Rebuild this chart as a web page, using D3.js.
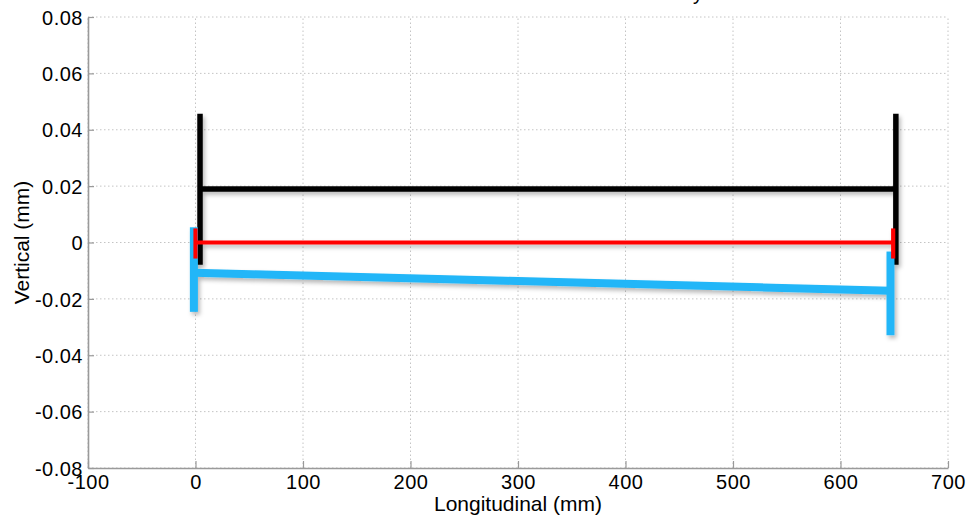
<!DOCTYPE html>
<html><head><meta charset="utf-8">
<script src="https://cdn.jsdelivr.net/npm/d3@7"></script>
<style>
html,body{margin:0;padding:0;background:#fff;}
svg{display:block;font-family:"Liberation Sans",Arial,Helvetica,sans-serif;}
</style></head>
<body>
<script>
// ---- data (mm) ----
const seriesNames = ["black", "blue", "red"];
const seriesColors = ["#000000", "#21b6f8", "#ff0000"];
const lineWidths = [5.5, 8, 4.2];
// main (horizontal / sloped) member: left end and right end
const xLeft  = [4.2, -1.5, 0];
const xRight = [651.5, 646.5, 649];
const yLeft  = [0.0190, -0.0107, 0];
const yRight = [0.0190, -0.0171, 0];
// end posts: [top, bottom]
const postLeft  = [[0.0457, -0.0079], [0.0054, -0.0246], [0.0050, -0.0057]];
const postRight = [[0.0457, -0.0079], [-0.0032, -0.0329], [0.0050, -0.0057]];
const xTicks = [-100, 0, 100, 200, 300, 400, 500, 600, 700];
const yTicks = [-0.08, -0.06, -0.04, -0.02, 0, 0.02, 0.04, 0.06, 0.08];
const titleText = "Vertical Deflection of the Beam Assembly";
const xLabel = "Longitudinal (mm)";
const yLabel = "Vertical (mm)";

// ---- layout ----
const W = 975, H = 516;
const m = {left: 88, right: 27, top: 17, bottom: 48};
const svg = d3.select("body").append("svg").attr("width", W).attr("height", H);

const x = d3.scaleLinear().domain([-100, 700]).range([m.left, W - m.right]);
const y = d3.scaleLinear().domain([-0.08, 0.08]).range([H - m.bottom, m.top]);

const defs = svg.append("defs");
const f = defs.append("filter").attr("id", "sh").attr("x", "-20%").attr("y", "-50%").attr("width", "140%").attr("height", "200%");
f.append("feDropShadow").attr("dx", 2).attr("dy", 3).attr("stdDeviation", 2)
  .attr("flood-color", "#000").attr("flood-opacity", 0.28);

// grid
const grid = svg.append("g").attr("stroke", "#c4c4c4").attr("stroke-width", 1).attr("stroke-dasharray", "1.5,2.5");
grid.selectAll("line.gx").data(xTicks).join("line")
  .attr("x1", d => x(d)).attr("x2", d => x(d)).attr("y1", y(-0.08)).attr("y2", y(0.08));
grid.selectAll("line.gy").data(yTicks).join("line")
  .attr("y1", d => y(d)).attr("y2", d => y(d)).attr("x1", x(-100)).attr("x2", x(700));

// axes
const hy = s => s.replace("\u2212", "-");
const axCol = "#9a9a9a";
const gx = svg.append("g").attr("transform", `translate(0,${y(-0.08)})`)
  .call(d3.axisBottom(x).tickValues(xTicks).tickSizeInner(-7).tickSizeOuter(0).tickPadding(10)
    .tickFormat(d => hy(d3.format("d")(d))));
const gy = svg.append("g").attr("transform", `translate(${x(-100)},0)`)
  .call(d3.axisLeft(y).tickValues(yTicks).tickSizeInner(-6).tickSizeOuter(0).tickPadding(5)
    .tickFormat(d => d === 0 ? "0" : hy(d3.format(".2f")(d))));
[gx, gy].forEach(g => {
  g.select(".domain").attr("stroke", axCol).attr("stroke-width", 1.6);
  g.selectAll(".tick line").attr("stroke", axCol).attr("stroke-width", 1.2);
  g.selectAll(".tick text").attr("fill", "#000").attr("font-size", 20).attr("letter-spacing", 0.5)
    .attr("font-family", "'Liberation Sans',Arial,sans-serif");
});
gy.selectAll(".tick text").attr("dy", "0.36em");
gx.selectAll(".tick text").attr("dy", "0.55em");

// series
const plot = svg.append("g").attr("filter", "url(#sh)");
seriesNames.forEach((name, i) => {
  const g = plot.append("g").attr("stroke", seriesColors[i]).attr("stroke-width", lineWidths[i]).attr("fill", "none");
  g.append("line").attr("x1", x(xLeft[i])).attr("y1", y(yLeft[i])).attr("x2", x(xRight[i])).attr("y2", y(yRight[i]));
  g.append("line").attr("x1", x(xLeft[i])).attr("x2", x(xLeft[i])).attr("y1", y(postLeft[i][0])).attr("y2", y(postLeft[i][1]));
  g.append("line").attr("x1", x(xRight[i])).attr("x2", x(xRight[i])).attr("y1", y(postRight[i][0])).attr("y2", y(postRight[i][1]));
});

// labels
svg.append("text").attr("x", x(300)).attr("y", 511).attr("text-anchor", "middle")
  .attr("font-size", 21).text(xLabel);
svg.append("text").attr("transform", `translate(29,${y(0)}) rotate(-90)`).attr("text-anchor", "middle")
  .attr("font-size", 21).text(yLabel);
svg.append("text").attr("x", 703).attr("y", 0).attr("text-anchor", "end")
  .attr("font-size", 20).text(titleText);
</script>
</body></html>
